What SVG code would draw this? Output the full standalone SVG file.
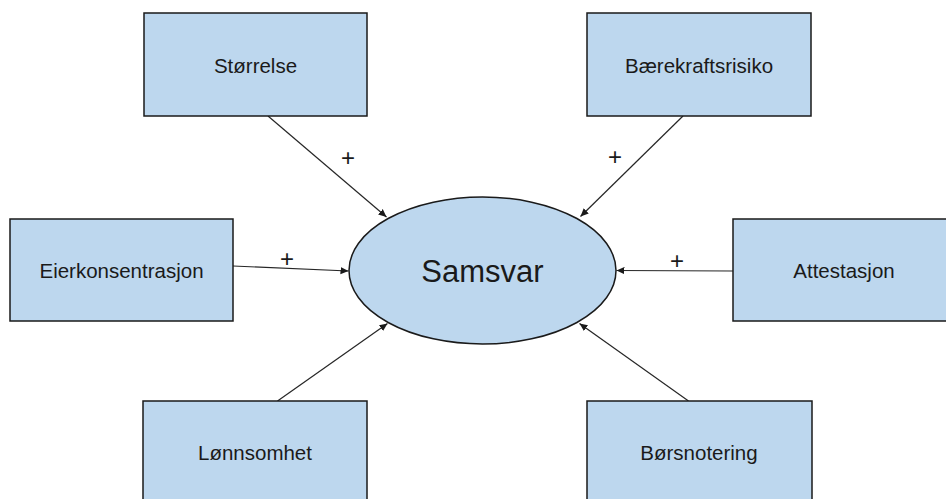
<svg xmlns="http://www.w3.org/2000/svg" width="946" height="499" viewBox="0 0 946 499">
<defs>
<marker id="arr" viewBox="0 0 10 10" refX="10" refY="5" markerWidth="8" markerHeight="8" markerUnits="userSpaceOnUse" orient="auto">
<path d="M0,0.5 L10,5 L0,9.5 z" fill="#1a1a1a"/>
</marker>
<style>
.box{fill:#BDD7EE;stroke:#1a1a1a;stroke-width:1.5}
.lbl{font-family:"Liberation Sans",Arial,sans-serif;font-size:20.5px;fill:#1a1a1a;text-anchor:middle}
.big{font-family:"Liberation Sans",Arial,sans-serif;font-size:31px;fill:#1a1a1a;text-anchor:middle}
.plus{font-family:"Liberation Sans",Arial,sans-serif;font-size:24px;fill:#1a1a1a;text-anchor:middle}
.con{stroke:#262626;stroke-width:1.2;fill:none;marker-end:url(#arr)}
</style>
</defs>
<rect width="946" height="499" fill="#fff"/>
<g id="connectors">
<line class="con" x1="268" y1="116" x2="386.5" y2="217"/>
<line class="con" x1="683" y1="116" x2="580.5" y2="216.5"/>
<line class="con" x1="233" y1="266" x2="348.5" y2="271"/>
<line class="con" x1="733" y1="271" x2="616.5" y2="270.5"/>
<line class="con" x1="277.5" y1="401" x2="387.5" y2="323.5"/>
<line class="con" x1="688.5" y1="401" x2="579.5" y2="323.5"/>
<text class="plus" x="348" y="166">+</text>
<text class="plus" x="615" y="165">+</text>
<text class="plus" x="287" y="267">+</text>
<text class="plus" x="677" y="269">+</text>
</g>
<g id="samsvar">
<ellipse cx="482.5" cy="270.5" rx="133.5" ry="73.5" class="box"/>
<text class="big" x="482.5" y="282">Samsvar</text>
</g>
<g id="storrelse">
<rect class="box" x="144" y="13" width="223" height="103"/>
<text class="lbl" x="255.5" y="73">Størrelse</text>
</g>
<g id="baerekraftsrisiko">
<rect class="box" x="587" y="13" width="224" height="103"/>
<text class="lbl" x="699" y="73">Bærekraftsrisiko</text>
</g>
<g id="eierkonsentrasjon">
<rect class="box" x="10" y="219" width="223" height="102"/>
<text class="lbl" x="121.5" y="278">Eierkonsentrasjon</text>
</g>
<g id="attestasjon">
<rect class="box" x="733" y="219" width="223" height="102"/>
<text class="lbl" x="844" y="278">Attestasjon</text>
</g>
<g id="lonnsomhet">
<rect class="box" x="143" y="401" width="224" height="103"/>
<text class="lbl" x="255" y="460">Lønnsomhet</text>
</g>
<g id="borsnotering">
<rect class="box" x="587" y="401" width="225" height="103"/>
<text class="lbl" x="699" y="460">Børsnotering</text>
</g>
</svg>
